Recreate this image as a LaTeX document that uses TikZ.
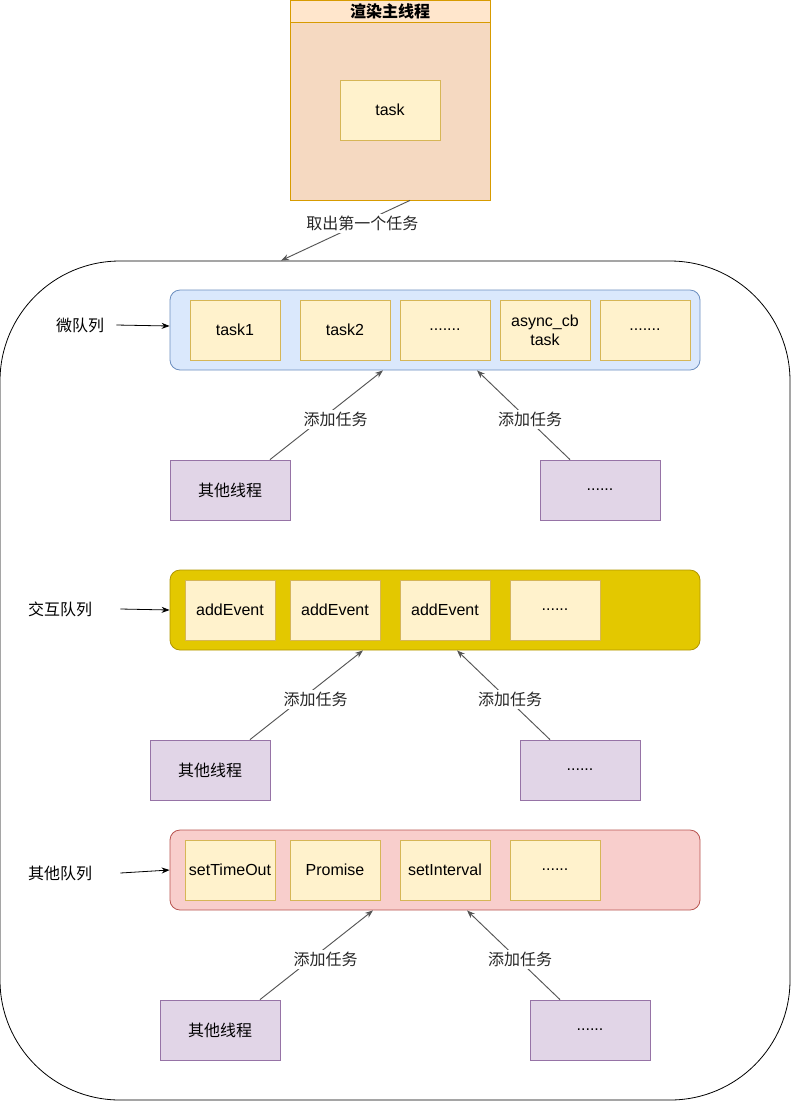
\documentclass[tikz,border=0pt]{standalone}
\usepackage{fontspec}
\setmainfont{Liberation Sans}
\newfontfamily\cjk{Noto Sans CJK SC}
\usetikzlibrary{arrows.meta, positioning}

\definecolor{headfill}{HTML}{FFE6CC}
\definecolor{mainfill}{HTML}{F5D9C1}
\definecolor{mainline}{HTML}{D79B00}
\definecolor{taskfill}{HTML}{FFF2CC}
\definecolor{taskline}{HTML}{D6B656}
\definecolor{microfill}{HTML}{DAE8FC}
\definecolor{microline}{HTML}{6C8EBF}
\definecolor{interfill}{HTML}{E3C800}
\definecolor{interline}{HTML}{B09500}
\definecolor{otherfill}{HTML}{F8CECC}
\definecolor{otherline}{HTML}{B85450}
\definecolor{thrfill}{HTML}{E1D5E7}
\definecolor{thrline}{HTML}{9673A6}
\definecolor{arrowgray}{HTML}{555555}

\begin{document}
\begin{tikzpicture}[
    x=0.75pt, y=-0.75pt,
    line width=0.6pt,
    every node/.style={font=\fontsize{12pt}{14pt}\selectfont},
    taskbox/.style={draw=taskline, fill=taskfill, minimum width=67.5pt,
        minimum height=45pt, inner sep=0pt, align=center},
    queue/.style={rounded corners=7.5pt, minimum width=397.5pt,
        minimum height=60pt, inner sep=0pt},
    thread/.style={draw=thrline, fill=thrfill, minimum width=90pt,
        minimum height=45pt, inner sep=0pt},
    qname/.style={inner sep=0pt, font=\cjk\fontsize{12pt}{14pt}\selectfont},
    addline/.style={->, arrowgray, line width=0.7pt},
    onlabel/.style={fill=white, text=black!85, inner sep=1.5pt,
        font=\cjk\fontsize{12pt}{14pt}\selectfont},
    >={Stealth[length=6pt, width=4.5pt]}
]
\useasboundingbox (0,0) rectangle (791,1101);

% main thread
\node[draw=mainline, fill=mainfill, minimum width=150pt, minimum height=133.5pt,
    inner sep=0pt] (main) at (390,111) {};
\node[draw=mainline, fill=headfill, minimum width=150pt, minimum height=16.5pt,
    inner sep=0pt] (head) at (390,11) {\cjk\bfseries 渲染主线程};
\node[taskbox, minimum width=75pt] (task) at (390,110) {task};

% event loop
\node[draw, rounded corners=90pt, minimum width=592.5pt, minimum height=629.25pt,
    inner sep=0pt] (loop) at (395,680.5) {};
\draw[addline] ([xshift=15pt]main.south) -- ([xshift=-85.5pt]loop.north)
    node[onlabel, pos=0.39, xshift=2pt] {取出第一个任务};

% micro queue
\node[queue, draw=microline, fill=microfill] (micro) at (435,330) {};
\node[taskbox] (m1) at (235,330) {task1};
\node[taskbox] (m2) at (345,330) {task2};
\node[taskbox] (m3) at (445,330) {.......};
\node[taskbox] (m4) at (545,330) {async\_cb\\task};
\node[taskbox] (m5) at (645,330) {.......};
\node[qname] (mlab) at (80,325) {微队列};
\draw[->] ([xshift=9pt]mlab.east) -- ([yshift=3pt]micro.west);
\node[thread] (mthrA) at (230,490) {\cjk 其他线程};
\node[thread] (mthrB) at (600,490) {......};
\draw[addline] ([xshift=30pt]mthrA.north) -- ([xshift=-39pt]micro.south)
    node[onlabel, pos=0.45, xshift=11pt] {添加任务};
\draw[addline] ([xshift=-22.5pt]mthrB.north) -- ([xshift=31.5pt]micro.south)
    node[onlabel, pos=0.45, xshift=1.5pt] {添加任务};

% interaction queue
\node[queue, draw=interline, fill=interfill] (inter) at (435,610) {};
\node[taskbox] (i1) at (230,610) {addEvent};
\node[taskbox] (i2) at (335,610) {addEvent};
\node[taskbox] (i3) at (445,610) {addEvent};
\node[taskbox] (i4) at (555,610) {......};
\node[qname] (ilab) at (60,609) {交互队列};
\draw[->] ([xshift=21pt]ilab.east) -- (inter.west);
\node[thread] (ithrA) at (210,770) {\cjk 其他线程};
\node[thread] (ithrB) at (580,770) {......};
\draw[addline] ([xshift=30pt]ithrA.north) -- ([xshift=-54pt]inter.south)
    node[onlabel, pos=0.45, xshift=11pt] {添加任务};
\draw[addline] ([xshift=-22.5pt]ithrB.north) -- ([xshift=16.5pt]inter.south)
    node[onlabel, pos=0.45, xshift=1.5pt] {添加任务};

% other queue
\node[queue, draw=otherline, fill=otherfill] (other) at (435,870) {};
\node[taskbox] (o1) at (230,870) {setTimeOut};
\node[taskbox] (o2) at (335,870) {Promise};
\node[taskbox] (o3) at (445,870) {setInterval};
\node[taskbox] (o4) at (555,870) {......};
\node[qname] (olab) at (60,873) {其他队列};
\draw[->] ([xshift=21pt]olab.east) -- (other.west);
\node[thread] (othrA) at (220,1030) {\cjk 其他线程};
\node[thread] (othrB) at (590,1030) {......};
\draw[addline] ([xshift=30pt]othrA.north) -- ([xshift=-46.5pt]other.south)
    node[onlabel, pos=0.45, xshift=11pt] {添加任务};
\draw[addline] ([xshift=-22.5pt]othrB.north) -- ([xshift=24pt]other.south)
    node[onlabel, pos=0.45, xshift=1.5pt] {添加任务};
\end{tikzpicture}
\end{document}
